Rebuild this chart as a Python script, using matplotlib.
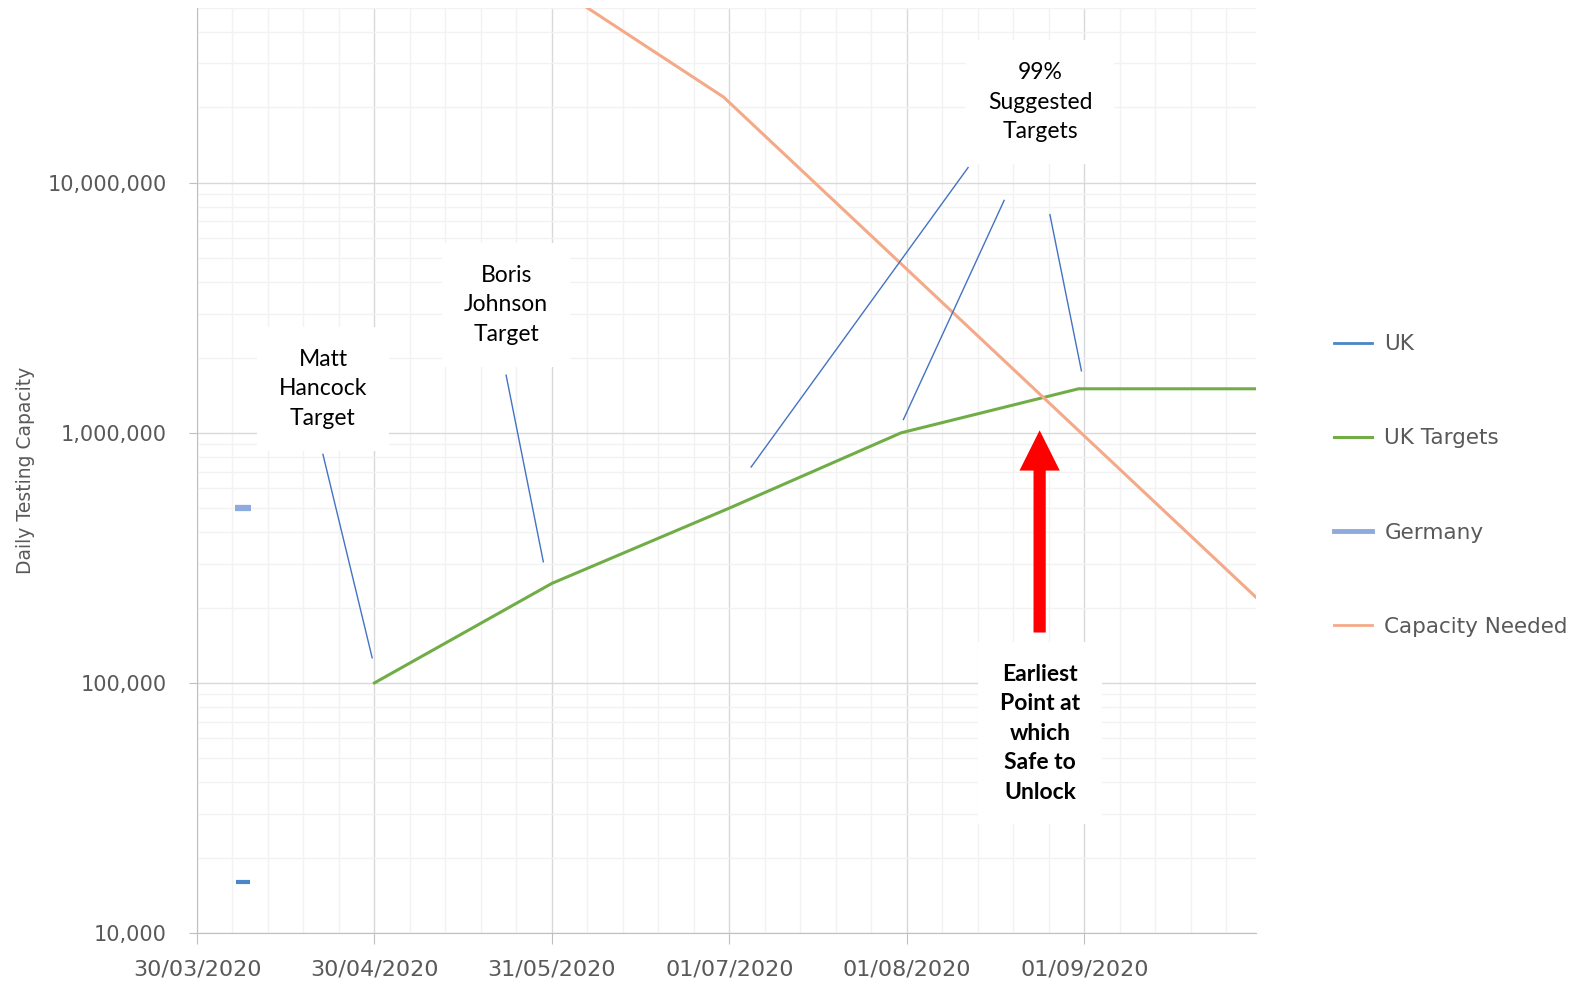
import matplotlib
matplotlib.use("Agg")
import matplotlib.pyplot as plt
import matplotlib.dates as mdates
import matplotlib.ticker as mticker
import numpy as np

# daily testing capacity series
uk_dates = ["2020-04-07"]
uk_values = [16000]

germany_dates = ["2020-04-07"]
germany_values = [500000]

target_dates = ["2020-04-30", "2020-05-31", "2020-07-01", "2020-07-31", "2020-08-31", "2020-10-01"]
target_values = [100000, 250000, 500000, 1000000, 1500000, 1500000]

needed_dates = ["2020-05-31", "2020-06-30", "2020-10-01"]
needed_values = [62000000, 22000000, 220000]

tick_start = "2020-03-30"
tick_step_days = 31


def d(s):
    return mdates.date2num(np.datetime64(s))


grey = "#595959"
fig = plt.figure(figsize=(15.71, 9.83), dpi=100)
ax = fig.add_axes([0.1254, 0.0509, 0.6741, 0.9410])

ax.plot([d(s) for s in uk_dates], uk_values, ls="none", marker="_",
        ms=10, mew=3, color="#4a86c8", label="UK")
ax.plot([d(s) for s in target_dates], target_values, color="#70ad47", lw=2.2,
        label="UK Targets")
ax.plot([d(s) for s in germany_dates], germany_values, ls="none", marker="_",
        ms=11, mew=4.5, color="#8faadc", label="Germany")
ax.plot([d(s) for s in needed_dates], needed_values, color="#f4a988", lw=2.2,
        label="Capacity Needed")

ax.set_yscale("log")
ax.set_ylim(1e4, 5e7)
x0 = d(tick_start)
ax.set_xlim(x0, d("2020-10-01"))

ax.xaxis.set_major_locator(mticker.MultipleLocator(tick_step_days, offset=x0 % tick_step_days))
ax.xaxis.set_minor_locator(mticker.MultipleLocator(tick_step_days / 5, offset=x0 % (tick_step_days / 5)))
ax.xaxis.set_major_formatter(mdates.DateFormatter("%d/%m/%Y"))
ax.yaxis.set_major_locator(mticker.LogLocator(base=10, numticks=10))
ax.yaxis.set_minor_locator(mticker.LogLocator(base=10, subs=np.arange(2, 10), numticks=20))
ax.yaxis.set_major_formatter(mticker.FuncFormatter(lambda v, p: f"{v:,.0f}"))
ax.yaxis.set_minor_formatter(mticker.NullFormatter())

ax.grid(True, which="major", color="#d9d9d9", lw=1)
ax.grid(True, which="minor", color="#f2f2f2", lw=1)
ax.set_axisbelow(True)
for side in ["top", "right"]:
    ax.spines[side].set_visible(False)
for side in ["left", "bottom"]:
    ax.spines[side].set_color("#bfbfbf")
ax.tick_params(which="major", colors="#bfbfbf", labelcolor=grey, labelsize=15)
ax.tick_params(axis="x", which="major", length=8, pad=11, labelsize=16)
ax.tick_params(axis="y", which="major", length=6, pad=16)
ax.tick_params(which="minor", length=0)
ax.set_ylabel("Daily Testing Capacity", fontsize=13.5, color=grey)
ax.yaxis.set_label_coords(-0.153, 0.5)

# callouts
box = dict(boxstyle="square,pad=0.95", fc="white", ec="none")
txt = dict(ha="center", va="center", fontsize=16.5, family="Lato", linespacing=1.5,
           bbox=box, zorder=5)
lead = dict(color="#4472c4", lw=1, zorder=6)

ax.text(d("2020-04-21"), 1.5e6, "Matt\nHancock\nTarget", **txt)
ax.plot([d("2020-04-21"), d("2020-04-30") - 0.4], [8.2e5, 1.26e5], **lead)

ax.text(d("2020-05-23"), 3.25e6, "Boris\nJohnson\nTarget", **txt)
ax.plot([d("2020-05-23"), d("2020-05-29") + 0.5], [1.7e6, 3.05e5], **lead)

ax.text(d("2020-08-24") + 0.3, 2.1e7, "99%\nSuggested\nTargets", **txt)
ax.plot([d("2020-08-11") + 0.7, d("2020-07-04") + 0.8], [1.15e7, 7.3e5], **lead)
ax.plot([d("2020-08-18"), d("2020-07-31") + 0.4], [8.5e6, 1.13e6], **lead)
ax.plot([d("2020-08-26"), d("2020-08-31") + 0.5], [7.45e6, 1.77e6], **lead)

ax.text(d("2020-08-24") + 0.3, 6.3e4, "Earliest\nPoint at\nwhich\nSafe to\nUnlock",
        fontweight="bold", **txt)
ax.annotate("", xy=(d("2020-08-24") + 0.2, 1.05e6), xytext=(d("2020-08-24") + 0.2, 1.55e5),
            arrowprops=dict(arrowstyle="simple,head_length=1.45,head_width=1.45,tail_width=0.44",
                            mutation_scale=20, fc="#ff0000", ec="none"), zorder=7)

leg = fig.legend(loc="center left", bbox_to_anchor=(0.8435, 0.506), frameon=False,
                 fontsize=15.5, labelcolor=grey, labelspacing=3.45, handlelength=1.8,
                 handletextpad=0.55, borderaxespad=0)
for h in leg.legend_handles:
    h.set_linestyle("-")
    h.set_marker("")
leg.legend_handles[0].set_linewidth(2)
leg.legend_handles[1].set_linewidth(2.2)
leg.legend_handles[2].set_linewidth(3.5)
leg.legend_handles[3].set_linewidth(2)

fig.savefig("out.png", dpi=100)
